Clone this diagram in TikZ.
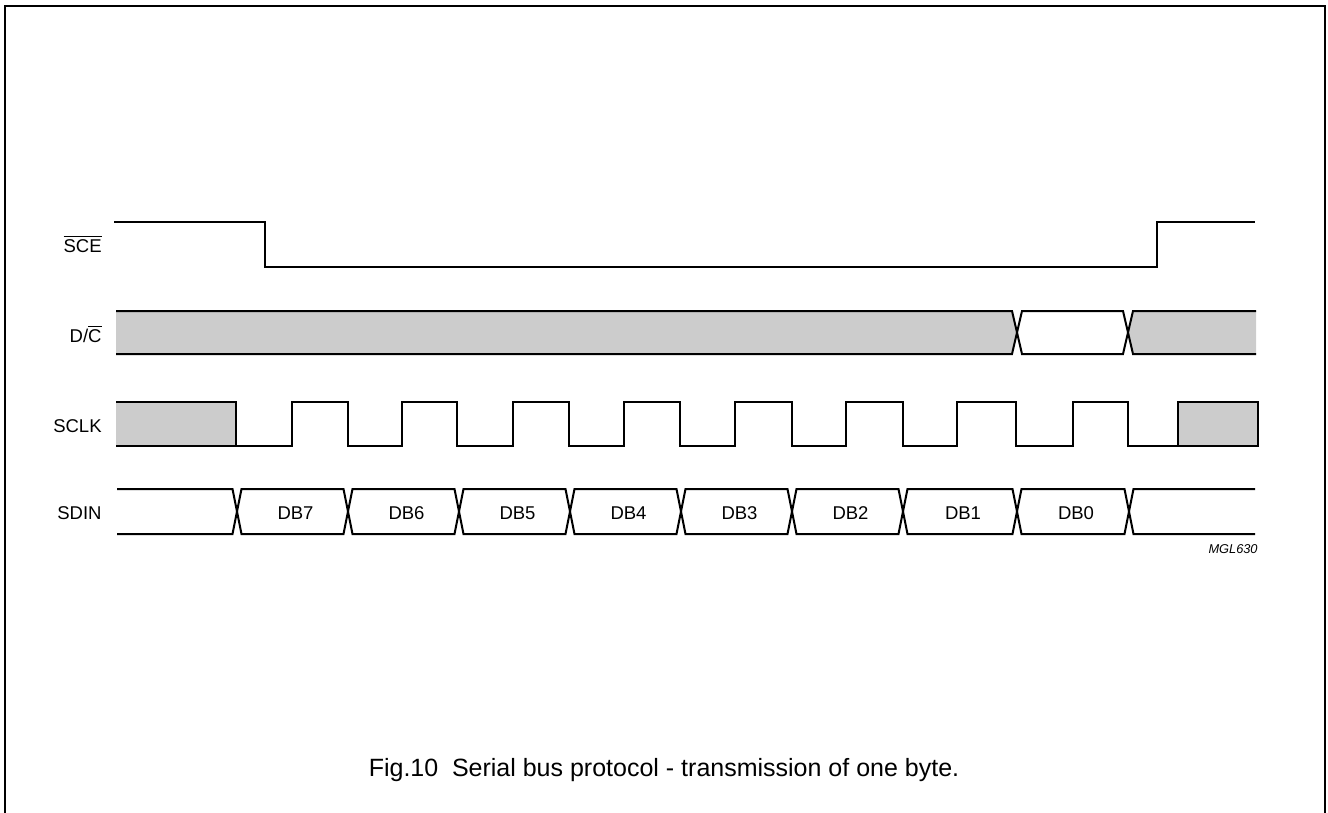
\documentclass[tikz,border=0pt]{standalone}
\usepackage{fontspec}
\setmainfont{Liberation Sans}
\begin{document}
\begin{tikzpicture}[x=0.5pt,y=-0.5pt,
  sig/.style={line width=1pt, line join=miter, line cap=butt},
  frame/.style={line width=1pt},
  busgray/.style={fill=black!20, draw=none},
  lbl/.style={font=\fontsize{9.25}{11}\selectfont, anchor=base east, inner sep=0pt},
  dbl/.style={font=\fontsize{9.25}{11}\selectfont, anchor=base, inner sep=0pt},
  code/.style={font=\fontsize{6.4}{8}\selectfont\itshape, anchor=base east, inner sep=0pt},
  capt/.style={font=\fontsize{12.5}{15}\selectfont, anchor=base, inner sep=0pt}]
\useasboundingbox (0,0) rectangle (1328,813);
% frame (open at the bottom)
\draw[frame] (5,813) -- (5,6) -- (1325,6) -- (1325,813);

% labels
\node[lbl] (lsce)  at (102,252) {$\overline{\mbox{SCE}}$};
\node[lbl] (ldc)   at (102,342) {D/$\overline{\mbox{C}}$};
\node[lbl] (lsclk) at (102,432) {SCLK};
\node[lbl] (lsdin) at (102,519) {SDIN};

% SCE
\draw[sig] (114,222) -- (265,222) -- (265,267) -- (1157,267) -- (1157,222) -- (1255,222);

% D/C bus
\fill[busgray] (116,311) -- (1012,311) -- (1017,332.5) -- (1012,354) -- (116,354) -- cycle;
\draw[sig] (116,311) -- (1012,311) -- (1017,332.5) -- (1012,354) -- (116,354);
\draw[sig] (1017,332.5) -- (1022,311) -- (1123,311) -- (1128,332.5) -- (1123,354) -- (1022,354) -- cycle;
\fill[busgray] (1256,311) -- (1133,311) -- (1128,332.5) -- (1133,354) -- (1256,354) -- cycle;
\draw[sig] (1256,311) -- (1133,311) -- (1128,332.5) -- (1133,354) -- (1256,354);

% SCLK
\fill[busgray] (116,402) rectangle (236,446);
\draw[sig] (116,402) -- (236,402) -- (236,446);
\draw[sig] (116,446) -| (292,402) -| (348,446) -| (402,402) -| (457,446)
  -| (513,402) -| (569,446) -| (624,402) -| (680,446) -| (735,402) -| (792,446)
  -| (846,402) -| (903,446) -| (957,402) -| (1016,446) -| (1073,402) -| (1128,446)
  -- (1178,446);
\filldraw[sig, fill=black!20] (1178,402) rectangle (1258,446);

% SDIN
\draw[sig] (117,489) -- (232.5,489) -- (237,511.5) -- (232.5,534) -- (117,534);
\foreach \a/\b/\t in {237/348/DB7, 348/459/DB6, 459/570/DB5, 570/681/DB4,
                      681/792/DB3, 792/903/DB2, 903/1017/DB1, 1017/1129/DB0}{
  \draw[sig] (\a,511.5) -- (\a+4.5,489) -- (\b-4.5,489) -- (\b,511.5)
             -- (\b-4.5,534) -- (\a+4.5,534) -- cycle;
  \node[dbl] (n\t) at ({(\a+\b)/2+3},519) {\t};
}
\draw[sig] (1255,489) -- (1133.5,489) -- (1129,511.5) -- (1133.5,534) -- (1255,534);

\node[code] (mgl) at (1258,553) {MGL630};

\node[capt] (caption) at (664,776) {Fig.10\hspace{0.55em}Serial bus protocol - transmission of one byte.};
\end{tikzpicture}
\end{document}
